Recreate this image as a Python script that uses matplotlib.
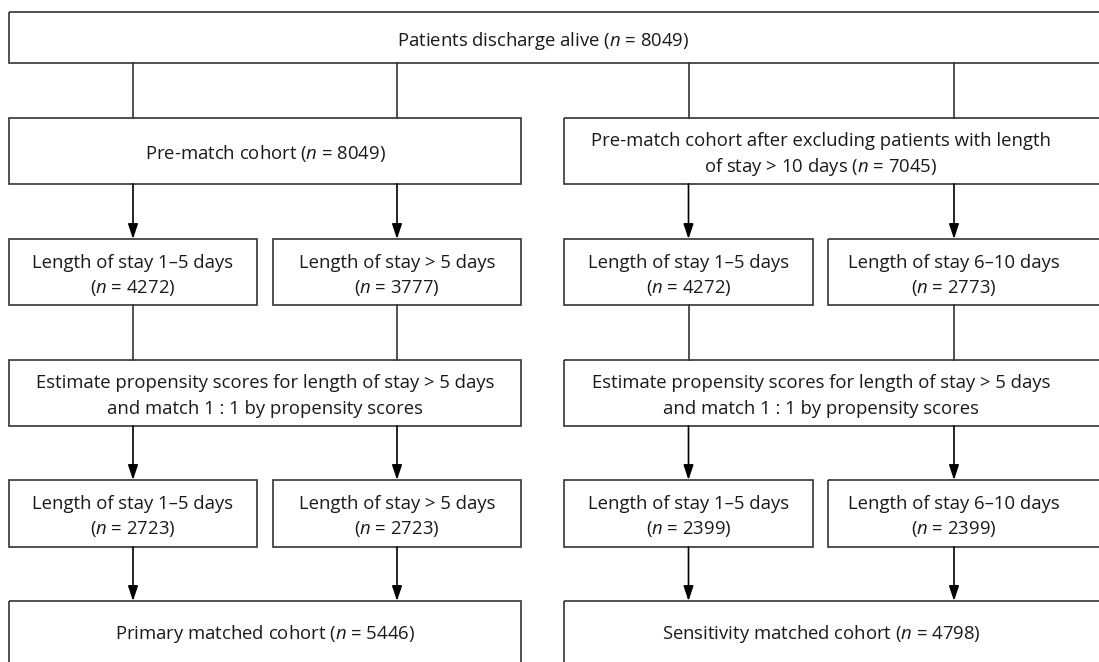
import matplotlib.pyplot as plt
from matplotlib.patches import Rectangle

plt.rcParams['font.family'] = 'Open Sans'
plt.rcParams['mathtext.fontset'] = 'custom'
plt.rcParams['mathtext.rm'] = 'Open Sans'
plt.rcParams['mathtext.it'] = 'Open Sans:italic'

# box texts and counts
top_label = "Patients discharge alive"
top_n = 8049
cohort_labels = ["Pre-match cohort",
                 "Pre-match cohort after excluding patients with length\nof stay > 10 days"]
cohort_n = [8049, 7045]
group_labels = ["Length of stay 1\u20135 days", "Length of stay > 5 days",
                "Length of stay 1\u20135 days", "Length of stay 6\u201310 days"]
group_n = [4272, 3777, 4272, 2773]
ps_label = "Estimate propensity scores for length of stay > 5 days\nand match 1 : 1 by propensity scores"
matched_n = [2723, 2723, 2399, 2399]
final_labels = ["Primary matched cohort", "Sensitivity matched cohort"]
final_n = [5446, 4798]

def ntxt(label, n, newline=False):
    sep = "\n" if newline else " "
    return f"{label}{sep}($\\mathit{{n}}$ = {n})"

fig = plt.figure(figsize=(10.99, 6.62), dpi=100)
ax = fig.add_axes([0, 0, 1, 1])
ax.set_xlim(0, 1099)
ax.set_ylim(662, 0)
ax.axis('off')

LC = '#333333'
FS = 13.3
LINE_H = 25

def box(x0, x1, y0, y1, text, draw_x1=None, draw_y1=None):
    right = draw_x1 if draw_x1 is not None else x1
    bottom = draw_y1 if draw_y1 is not None else y1
    ax.add_patch(Rectangle((x0, y0), right - x0, bottom - y0, fill=False,
                           ec=LC, lw=1.2, clip_on=False))
    cx = (x0 + x1) / 2
    cy = (y0 + y1) / 2
    lines = text.split("\n")
    first = cy - LINE_H * (len(lines) - 1) / 2
    for k, s in enumerate(lines):
        ax.text(cx, first + k * LINE_H + 8, s, ha='center', va='baseline',
                fontsize=FS, color='#1a1a1a')

def line(x, y0, y1, arrow):
    if arrow:
        ax.annotate('', xy=(x, y1), xytext=(x, y0),
                    arrowprops=dict(arrowstyle='-|>,head_length=0.9,head_width=0.3',
                                    color='black', lw=1.2, shrinkA=0, shrinkB=0))
    else:
        ax.plot([x, x], [y0, y1], color=LC, lw=1.2)

rows = [(12, 63), (118, 184), (239, 305), (360, 426), (480, 547), (601, 661)]
narrow = [(9, 257), (273, 521), (564, 813), (828, 1080)]
wide = [(9, 521), (564, 1078)]
ext = 1115  # right-hand boxes run past the edge
ext_y = 690  # bottom boxes run past the edge

box(9, 1078, *rows[0], ntxt(top_label, top_n), draw_x1=ext)
for i, (x0, x1) in enumerate(wide):
    d = ext if i == 1 else None
    box(x0, x1, *rows[1], ntxt(cohort_labels[i], cohort_n[i]), draw_x1=d)
    box(x0, x1, *rows[3], ps_label, draw_x1=d)
    box(x0, x1, *rows[5], ntxt(final_labels[i], final_n[i]), draw_x1=d, draw_y1=ext_y)
for i, (x0, x1) in enumerate(narrow):
    d = ext if i == 3 else None
    box(x0, x1, *rows[2], ntxt(group_labels[i], group_n[i], True), draw_x1=d)
    box(x0, x1, *rows[4], ntxt(group_labels[i], matched_n[i], True), draw_x1=d)

for x0, x1 in narrow:
    cx = (x0 + x1) / 2
    line(cx, rows[0][1], rows[1][0], False)
    line(cx, rows[1][1], rows[2][0], True)
    line(cx, rows[2][1], rows[3][0], False)
    line(cx, rows[3][1], rows[4][0], True)
    line(cx, rows[4][1], rows[5][0], True)

fig.savefig('out.png', dpi=100)
